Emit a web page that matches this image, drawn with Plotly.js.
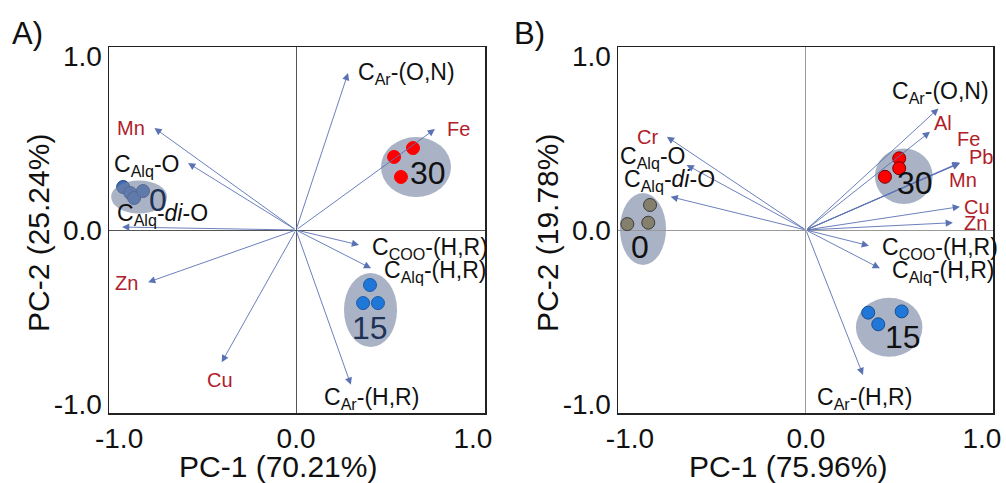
<!DOCTYPE html>
<html>
<head>
<meta charset="utf-8">
<script src="https://cdn.plot.ly/plotly-3.0.1.min.js"></script>
<style>html,body{margin:0;padding:0;background:#fff;}#chart{width:1006px;height:483px;}</style>
</head>
<body>
<div id="chart"></div>
<script>
// ---------- Panel A data ----------
var loadNamesA = ["C<sub>Ar</sub>-(O,N)", "Fe", "Mn", "C<sub>Alq</sub>-O", "C<sub>Alq</sub>-<i>di</i>-O", "Zn", "Cu", "C<sub>Ar</sub>-(H,R)", "C<sub>COO</sub>-(H,R)", "C<sub>Alq</sub>-(H,R)"];
var loadXA = [0.294, 0.785, -0.80, -0.61, -0.983, -0.836, -0.42, 0.31, 0.356, 0.424];
var loadYA = [0.902, 0.58, 0.586, 0.385, 0.017, -0.30, -0.76, -0.89, -0.086, -0.22];
var loadIsMetalA = [false, true, true, false, false, true, true, false, false, false];
var labelXA = [0.339, 0.842, -1.023, -1.04, -1.023, -1.034, -0.43, 0.147, 0.418, 0.486];
var labelYA = [0.902, 0.58, 0.586, 0.368, 0.092, -0.305, -0.862, -0.966, -0.109, -0.236];

var groupNames = ["0", "15", "30"];
var scoreXA0 = [-0.977, -0.937, -0.915, -0.865];
var scoreYA0 = [0.247, 0.213, 0.184, 0.224];
var scoreXA15 = [0.418, 0.379, 0.463];
var scoreYA15 = [-0.316, -0.42, -0.42];
var scoreXA30 = [0.554, 0.661, 0.593];
var scoreYA30 = [0.42, 0.471, 0.305];
var ellCxA = [-0.887, 0.421, 0.678];
var ellCyA = [0.19, -0.46, 0.362];
var ellRxA = [0.158, 0.15, 0.198];
var ellRyA = [0.095, 0.213, 0.172];
var grpLabXA = [-0.78, 0.418, 0.746];
var grpLabYA = [0.172, -0.563, 0.328];

// ---------- Panel B data ----------
var loadNamesB = ["C<sub>Ar</sub>-(O,N)", "Al", "Fe", "Pb", "Mn", "Cu", "Zn", "C<sub>COO</sub>-(H,R)", "C<sub>Alq</sub>-(H,R)", "C<sub>Ar</sub>-(H,R)", "Cr", "C<sub>Alq</sub>-O", "C<sub>Alq</sub>-<i>di</i>-O"];
var loadXB = [0.753, 0.705, 0.874, 0.875, 0.873, 0.875, 0.835, 0.358, 0.42, 0.324, -0.79, -0.678, -0.769];
var loadYB = [0.699, 0.565, 0.388, 0.385, 0.383, 0.134, 0.042, -0.09, -0.22, -0.833, 0.536, 0.374, 0.191];
var loadIsMetalB = [false, true, true, true, true, true, true, false, false, false, true, false, false];
var labelXB = [0.477, 0.716, 0.847, 0.913, 0.80, 0.886, 0.886, 0.42, 0.477, 0.051, -0.972, -1.068, -1.045];
var labelYB = [0.793, 0.615, 0.523, 0.42, 0.287, 0.132, 0.04, -0.109, -0.236, -0.966, 0.534, 0.414, 0.287];

var scoreXB0 = [-0.886, -1.015, -0.896];
var scoreYB0 = [0.144, 0.034, 0.042];
var scoreXB15 = [0.354, 0.411, 0.544];
var scoreYB15 = [-0.475, -0.542, -0.468];
var scoreXB30 = [0.53, 0.53, 0.449];
var scoreYB30 = [0.412, 0.355, 0.306];
var ellCxB = [-0.926, 0.473, 0.556];
var ellCyB = [0.006, -0.559, 0.309];
var ellRxB = [0.131, 0.189, 0.164];
var ellRyB = [0.207, 0.17, 0.16];
var grpLabXB = [-0.943, 0.551, 0.619];
var grpLabYB = [-0.098, -0.615, 0.27];

var tickVals = [-1, 0, 1];
var tickText = ["-1.0", "0.0", "1.0"];
var axisTitlesX = ["PC-1 (70.21%)", "PC-1 (75.96%)"];
var axisTitlesY = ["PC-2 (25.24%)", "PC-2 (19.78%)"];
var panelLetters = ["A)", "B)"];

// ---------- build ----------
var FONT = "Liberation Sans, Arial, sans-serif";
var arrowColor = "#5a72b4";
var metalColor = "#b0202a";

function scoreTrace(xs, ys, color, line, xa, ya) {
  return {x: xs, y: ys, xaxis: xa, yaxis: ya, type: "scatter", mode: "markers", hoverinfo: "skip",
    marker: {size: 13, color: color, line: {color: line, width: 1}}, showlegend: false};
}

var data = [
  scoreTrace(scoreXA0, scoreYA0, "#3d6cb8", "#1f3f78", "x", "y"),
  scoreTrace(scoreXA15, scoreYA15, "#1f78d8", "#1a5aa8", "x", "y"),
  scoreTrace(scoreXA30, scoreYA30, "#ff0000", "#ff0000", "x", "y"),
  scoreTrace(scoreXB0, scoreYB0, "#857f6e", "#3a3a3a", "x2", "y2"),
  scoreTrace(scoreXB15, scoreYB15, "#1f78d8", "#1a4f90", "x2", "y2"),
  scoreTrace(scoreXB30, scoreYB30, "#ff0000", "#7a0000", "x2", "y2")
];

var shapes = [];
function addEllipses(cx, cy, rx, ry, xr, yr, aboveIdx) {
  for (var i = 0; i < cx.length; i++) {
    shapes.push({type: "circle", xref: xr, yref: yr, x0: cx[i] - rx[i], x1: cx[i] + rx[i],
      y0: cy[i] - ry[i], y1: cy[i] + ry[i], fillcolor: "rgba(118,133,163,0.62)", line: {width: 0},
      layer: (i === aboveIdx) ? "above" : "below"});
  }
}
addEllipses(ellCxA, ellCyA, ellRxA, ellRyA, "x", "y", 0);
addEllipses(ellCxB, ellCyB, ellRxB, ellRyB, "x2", "y2", -1);

var annotations = [];
function addLoadings(names, lx, ly, isMetal, labx, laby, xr, yr) {
  for (var i = 0; i < names.length; i++) {
    annotations.push({xref: xr, yref: yr, axref: xr, ayref: yr, x: lx[i], y: ly[i], ax: 0, ay: 0,
      text: "", showarrow: true, arrowhead: 2, arrowsize: 1.6, arrowwidth: 0.9, arrowcolor: arrowColor, standoff: 0});
  }
  for (var j = 0; j < names.length; j++) {
    annotations.push({xref: xr, yref: yr, x: labx[j], y: laby[j], text: names[j], showarrow: false,
      xanchor: (names[j] === "Cu" && xr === "x") ? "center" : "left", yanchor: "middle",
      font: {family: FONT, size: isMetal[j] ? 20 : 23, color: isMetal[j] ? metalColor : "#111"}});
  }
}
addLoadings(loadNamesA, loadXA, loadYA, loadIsMetalA, labelXA, labelYA, "x", "y");
addLoadings(loadNamesB, loadXB, loadYB, loadIsMetalB, labelXB, labelYB, "x2", "y2");

function addGroupLabels(xs, ys, xr, yr, colors) {
  for (var i = 0; i < groupNames.length; i++) {
    annotations.push({xref: xr, yref: yr, x: xs[i], y: ys[i], text: groupNames[i], showarrow: false,
      xanchor: "center", yanchor: "middle", font: {family: FONT, size: 32, color: colors[i]}});
  }
}
addGroupLabels(grpLabXA, grpLabYA, "x", "y", ["#1e3256", "#1e3256", "#111"]);
addGroupLabels(grpLabXB, grpLabYB, "x2", "y2", ["#111", "#111", "#111"]);

// axis titles & panel letters
var xTitlePos = [0.2763, 0.7833];
var yTitlePos = [0.0378, 0.5437];
for (var k = 0; k < 2; k++) {
  annotations.push({xref: "paper", yref: "paper", x: xTitlePos[k], y: 1 - 466 / 483, text: axisTitlesX[k],
    showarrow: false, xanchor: "center", yanchor: "middle", font: {family: FONT, size: 30, color: "#111"}});
  annotations.push({xref: "paper", yref: "paper", x: yTitlePos[k], y: 1 - 233 / 483, text: axisTitlesY[k],
    showarrow: false, textangle: -90, xanchor: "center", yanchor: "middle", font: {family: FONT, size: 30, color: "#111"}});
  annotations.push({xref: "paper", yref: "paper", x: (k === 0 ? 10 : 512) / 1006, y: 1 - 33 / 483, text: panelLetters[k],
    showarrow: false, xanchor: "left", yanchor: "middle", font: {family: FONT, size: 31, color: "#111"}});
}

function axis(domain, range, zcolor, anchor) {
  return {domain: domain, range: range, anchor: anchor, showgrid: false, zeroline: true, zerolinecolor: zcolor,
    zerolinewidth: 1, showline: true, mirror: true, linecolor: "#222", linewidth: 1.5, ticks: "",
    tickmode: "array", tickvals: tickVals, ticktext: tickText, tickfont: {family: FONT, size: 28, color: "#111"},
    fixedrange: true};
}

var layout = {
  width: 1006, height: 483, margin: {l: 0, r: 0, t: 0, b: 0}, paper_bgcolor: "#fff", plot_bgcolor: "#fff",
  showlegend: false,
  xaxis: axis([109 / 1006, 485 / 1006], [-1.057, 1.068], "#555", "y"),
  yaxis: axis([70 / 483, 436 / 483], [-1.052, 1.052], "#555", "x"),
  xaxis2: axis([618 / 1006, 993 / 1006], [-1.068, 1.063], "#999", "y2"),
  yaxis2: axis([70 / 483, 436 / 483], [-1.052, 1.052], "#999", "x2"),
  shapes: shapes, annotations: annotations
};

Plotly.newPlot("chart", data, layout, {staticPlot: true, displayModeBar: false});
</script>
</body>
</html>
